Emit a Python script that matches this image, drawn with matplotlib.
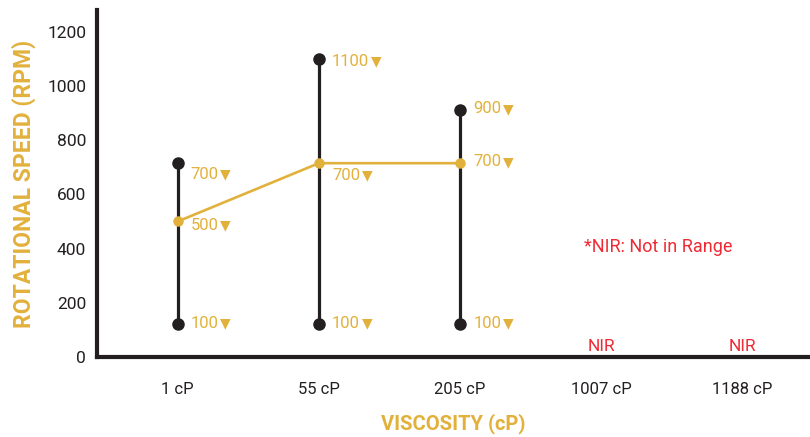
import numpy as np
import matplotlib.pyplot as plt

# viscosity categories and measured rpm ranges
categories = ["1 cP", "55 cP", "205 cP", "1007 cP", "1188 cP"]
range_low = [120, 120, 120]
range_high = [715, 1100, 910]
optimum = [500, 715, 715]

# printed labels next to each point: (category index, value, text)
point_labels = [
    (0, 715, "700"), (0, 500, "500"), (0, 120, "100"),
    (1, 1100, "1100"), (1, 715, "700"), (1, 120, "100"),
    (2, 910, "900"), (2, 715, "700"), (2, 120, "100"),
]
nir_categories = [3, 4]

gold = "#E2B13C"
dark = "#231F20"
red = "#EE2A35"

plt.rcParams["font.family"] = ["Roboto", "DejaVu Sans"]

fig = plt.figure(figsize=(8.1, 4.37), dpi=100)
ax = fig.add_axes([0.12, 0.183, 0.88, 0.794])

x = np.arange(len(range_high))
ax.vlines(x, range_low, range_high, color=dark, lw=2.3, zorder=2)
ax.plot(x, range_low, "o", color=dark, ms=8, zorder=3)
ax.plot(x, range_high, "o", color=dark, ms=8, zorder=3)
ax.plot(x, optimum, "-o", color=gold, lw=1.9, ms=6.5, zorder=4)

# small vertical nudges so labels sit like in the original
y_nudge = [-8, -3, 1, -2, -9, 1, 1, 1, 1]
digit_w = 0.562 * 12  # Roboto digit advance in points
for (i, v, txt), dy in zip(point_labels, y_nudge):
    ax.annotate(txt, (i, v), xytext=(9.5, dy), textcoords="offset points",
                ha="left", va="center", color=gold, fontsize=12)
    ax.annotate("\u25bc", (i, v), xytext=(9.5 + len(txt) * digit_w + 1.0, dy),
                textcoords="offset points", ha="left", va="center",
                color=gold, fontsize=10, family="DejaVu Sans")

for i in nir_categories:
    ax.text(i, 38, "NIR", color=red, fontsize=12.5, ha="center", va="center")
ax.text(2.88, 406, "*NIR: Not in Range", color=red, fontsize=13, ha="left", va="center")

ax.set_xlim(-0.57, 4.48)
ax.set_ylim(0, 1280)
ax.set_xticks(range(len(categories)))
ax.set_xticklabels(categories)
ax.set_yticks(np.arange(0, 1201, 200))
ax.tick_params(axis="x", length=0, pad=18, labelsize=12, labelcolor=dark)
ax.tick_params(axis="y", length=0, pad=8, labelsize=12.5, labelcolor=dark)

for side in ["top", "right"]:
    ax.spines[side].set_visible(False)
for side in ["left", "bottom"]:
    ax.spines[side].set_linewidth(3)
    ax.spines[side].set_color(dark)

ax.set_xlabel("VISCOSITY (cP)", color=gold, fontsize=14.5, fontweight="bold", labelpad=12)
ax.set_ylabel("ROTATIONAL SPEED (RPM)", color=gold, fontsize=16.5, fontweight="bold", labelpad=8)

fig.savefig("out.png", dpi=100)
